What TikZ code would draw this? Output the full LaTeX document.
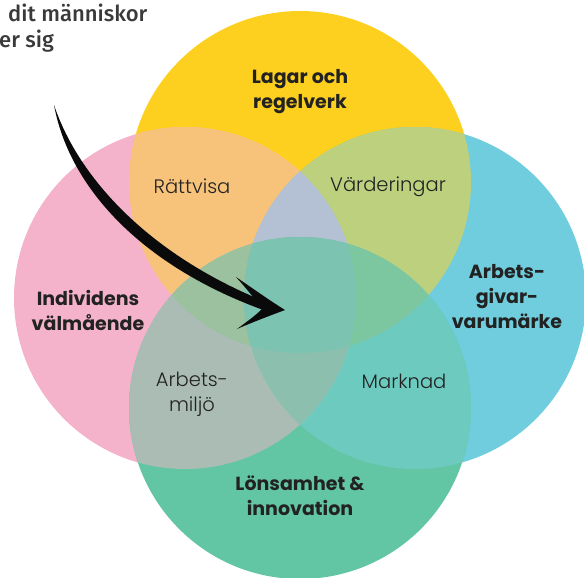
\documentclass[tikz,border=0pt]{standalone}
\usepackage{fontspec}
\setmainfont{Poppins}
\newfontfamily\lightfont{Poppins Light}
\newfontfamily\notefont{Fira Sans Medium}
\definecolor{cY}{HTML}{FDD01F}
\definecolor{cP}{HTML}{F4B3CB}
\definecolor{cB}{HTML}{70CDDE}
\definecolor{cG}{HTML}{62C6A5}
\definecolor{cYP}{HTML}{F7C37A}
\definecolor{cYB}{HTML}{BDD07E}
\definecolor{cPG}{HTML}{ABBCB5}
\definecolor{cBG}{HTML}{6CCABF}
\definecolor{cPB}{HTML}{A9C4C8}
\definecolor{cYG}{HTML}{8CC4A8}
\definecolor{cYPB}{HTML}{B4C0D4}
\definecolor{cYPG}{HTML}{9CC19E}
\definecolor{cYBG}{HTML}{7CC7A0}
\definecolor{cPBG}{HTML}{8CBFAE}
\definecolor{cYPBG}{HTML}{7CC3B1}
\definecolor{txt}{HTML}{222222}
\definecolor{notetxt}{HTML}{3A3A3A}
\definecolor{arrowc}{HTML}{0A0A0A}
\tikzset{
  pathY/.style={insert path={(300,182) circle[radius=171pt]}},
  pathP/.style={insert path={(185,298) circle[radius=171pt]}},
  pathB/.style={insert path={(415,298) circle[radius=171pt]}},
  pathG/.style={insert path={(300,408) circle[radius=171pt]}},
  bigl/.style={font=\fontsize{19}{25}\selectfont\bfseries, text=txt, align=center, inner sep=0pt},
  smalll/.style={font=\lightfont\fontsize{19.5}{25}\selectfont, text=txt, align=center, inner sep=0pt},
  note/.style={font=\notefont\fontsize{22}{26}\selectfont, text=notetxt, inner sep=0pt}
}
\begin{document}
\begin{tikzpicture}[x=1pt,y=-1pt]
\useasboundingbox (0,0) rectangle (584,578);
% single circles
\fill[cY, pathY];
\fill[cP, pathP];
\fill[cB, pathB];
\fill[cG, pathG];
% pairs
\begin{scope}\path[clip, pathY]; \fill[cYP, pathP]; \end{scope}
\begin{scope}\path[clip, pathY]; \fill[cYB, pathB]; \end{scope}
\begin{scope}\path[clip, pathP]; \fill[cPG, pathG]; \end{scope}
\begin{scope}\path[clip, pathB]; \fill[cBG, pathG]; \end{scope}
\begin{scope}\path[clip, pathP]; \fill[cPB, pathB]; \end{scope}
\begin{scope}\path[clip, pathY]; \fill[cYG, pathG]; \end{scope}
% triples
\begin{scope}\path[clip, pathY]; \path[clip, pathP]; \fill[cYPB, pathB]; \end{scope}
\begin{scope}\path[clip, pathY]; \path[clip, pathP]; \fill[cYPG, pathG]; \end{scope}
\begin{scope}\path[clip, pathY]; \path[clip, pathB]; \fill[cYBG, pathG]; \end{scope}
\begin{scope}\path[clip, pathP]; \path[clip, pathB]; \fill[cPBG, pathG]; \end{scope}
% all four
\begin{scope}\path[clip, pathY]; \path[clip, pathP]; \path[clip, pathB]; \fill[cYPBG, pathG]; \end{scope}
% arrow
\fill[arrowc] (54,105) .. controls (80,182) and (154,257) .. (266,302)
  -- (266,311) .. controls (146,268) and (70,191) .. (54,105) -- cycle;
\fill[arrowc] (236,277) .. controls (255,290) and (269,300) .. (285,310)
  .. controls (269,316) and (253,322) .. (237,329)
  .. controls (248,321) and (256,315) .. (262,309)
  .. controls (255,299) and (246,288) .. (236,277) -- cycle;
% labels
\node[bigl] (lagar) at (300,92) {Lagar och\\regelverk};
\node[bigl] (indiv) at (88,310) {Individens\\välmående};
\node[bigl] (arbgiv) at (507,297) {Arbets-\\givar-\\varumärke};
\node[bigl] (lons) at (300,496) {Lönsamhet \&\\innovation};
\node[smalll] (ratt) at (192,186) {Rättvisa};
\node[smalll] (vard) at (388,187) {Värderingar};
\node[smalll] (miljo) at (192,394) {Arbets-\\miljö};
\node[smalll] (mark) at (404,381) {Marknad};
\node[note, anchor=base west] (n1) at (8,22) {dit människor};
\node[note, anchor=base west] (n2) at (-1,48) {er sig};
\end{tikzpicture}
\end{document}
